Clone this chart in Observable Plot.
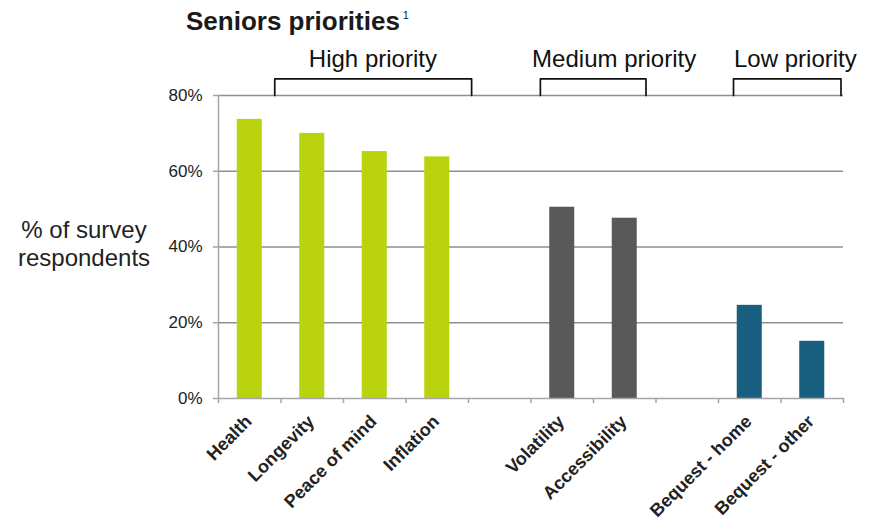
<!DOCTYPE html>
<html>
<head>
<meta charset="utf-8">
<script src="https://cdn.jsdelivr.net/npm/d3@7"></script>
<script src="https://cdn.jsdelivr.net/npm/@observablehq/plot@0.6"></script>
<style>
  body { margin: 0; background: #fff; font-family: "Liberation Sans", Arial, sans-serif; }
  #wrap { position: relative; width: 872px; height: 521px; }
  #title { position: absolute; left: 186px; top: 8px; font-size: 26px; line-height: 26px; font-weight: bold; color: #1a1a1a; white-space: nowrap; }
  #title span { font-size: 11px; font-weight: normal; position: relative; top: -11px; margin-left: 3px; }
</style>
</head>
<body>
<div id="wrap">
  <div id="chart"></div>
  <div id="title">Seniors priorities<span>1</span></div>
</div>
<script>
// ---- data ----
const categories = ["Health", "Longevity", "Peace of mind", "Inflation", "Volatility", "Accessibility", "Bequest - home", "Bequest - other"];
const values = [73.7, 70.0, 65.2, 63.8, 50.5, 47.6, 24.6, 15.1];
const priorities = ["High", "High", "High", "High", "Medium", "Medium", "Low", "Low"];
const groupKeys = ["High", "Medium", "Low"];
const groupLabels = ["High priority", "Medium priority", "Low priority"];
const groupColors = ["#b9d30f", "#595959", "#185e7e"];
const yTicks = [0, 20, 40, 60, 80];
const yTitle = "% of survey\nrespondents";
// bracket annotations (in slot units)
const bracketStart = [0.9, 5.15, 8.24];
const bracketEnd = [4.05, 6.84, 9.96];
const bracketLabelX = [2.47, 6.33, 9.23];

// ---- build table: one slot per bar, a blank slot between priority groups ----
const rows = [];
let slot = 0, prev = null;
categories.forEach((c, i) => {
  if (prev !== null && priorities[i] !== prev) slot++;
  rows.push({category: c, value: values[i], priority: priorities[i], slot});
  slot++;
  prev = priorities[i];
});
const nSlots = slot;
const boundaries = d3.range(0, nSlots + 1);
const yMax = d3.max(yTicks);
const rise = 4.4;

const bracketPts = [];
groupKeys.forEach((g, i) => {
  bracketPts.push({g, x: bracketStart[i], y: yMax});
  bracketPts.push({g, x: bracketStart[i], y: yMax + rise});
  bracketPts.push({g, x: bracketEnd[i], y: yMax + rise});
  bracketPts.push({g, x: bracketEnd[i], y: yMax});
});
const bracketLabels = groupLabels.map((t, i) => ({text: t, x: bracketLabelX[i]}));

const chart = Plot.plot({
  width: 872,
  height: 521,
  marginLeft: 218,
  marginRight: 29,
  marginTop: 95,
  marginBottom: 123,
  style: {fontFamily: "Liberation Sans, Arial, sans-serif", color: "#222", background: "#fff"},
  x: {domain: [0, nSlots], axis: null},
  y: {domain: [0, yMax], axis: null},
  color: {domain: groupKeys, range: groupColors},
  marks: [
    Plot.ruleY(yTicks.filter(d => d > 0), {stroke: "#8f8f8f", strokeWidth: 1.5}),
    Plot.rectY(rows, {x1: d => d.slot + 0.3, x2: d => d.slot + 0.7, y1: 0, y2: "value", fill: "priority"}),
    Plot.ruleY([0], {stroke: "#a6a6a6", strokeWidth: 1.5}),
    Plot.ruleX([0], {stroke: "#a6a6a6", strokeWidth: 1.5}),
    Plot.axisY({ticks: yTicks, tickFormat: d => d + "%", tickSize: 5, tickPadding: 11, fontSize: 17, stroke: "#a6a6a6", strokeWidth: 1.5, color: "#222", label: null}),
    Plot.axisX({ticks: boundaries, tickFormat: () => "", tickSize: 5, stroke: "#a6a6a6", strokeWidth: 1.5, label: null}),
    Plot.text(rows, {x: d => d.slot + 0.5, y: 0, text: "category", rotate: -45, textAnchor: "end", lineAnchor: "middle", dx: -1, dy: 20, fontSize: 18, fontWeight: "bold", fill: "#222"}),
    Plot.line(bracketPts, {x: "x", y: "y", z: "g", stroke: "#111", strokeWidth: 1.7, clip: false}),
    Plot.text(bracketLabels, {x: "x", frameAnchor: "top", dy: -36, text: "text", fontSize: 24, fill: "#111", textAnchor: "middle", lineAnchor: "middle"}),
    Plot.text([yTitle], {frameAnchor: "left", dx: -134.5, dy: -4, text: d => d, fontSize: 24, lineHeight: 1.15, textAnchor: "middle", lineAnchor: "middle", fill: "#222"})
  ]
});
document.getElementById("chart").appendChild(chart);
</script>
</body>
</html>
